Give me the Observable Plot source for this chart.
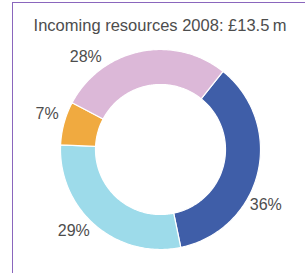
<!DOCTYPE html>
<html>
<head>
<meta charset="utf-8">
<script src="https://cdn.jsdelivr.net/npm/d3@7"></script>
<script src="https://cdn.jsdelivr.net/npm/@observablehq/plot@0.6"></script>
<style>
  html, body { margin: 0; padding: 0; background: #fff; }
  #wrap { position: relative; width: 307px; height: 273px; overflow: hidden; }
  #border { position: absolute; left: 12px; top: 2px; width: 292px; height: 290px;
            border-top: 1.5px solid #8a66bd; border-left: 1.5px solid #8a66bd; pointer-events: none; }
  svg { display: block; }
</style>
</head>
<body>
<div id="wrap"><div id="border"></div></div>
<script>
// ---- data ----
const title = "Incoming resources 2008: £13.5\u2009m";
const categories = ["S1", "S2", "S3", "S4"];
const values = [36, 29, 7, 28];
const labels = ["36%", "29%", "7%", "28%"];
const colors = ["#3f5ea8", "#9ddbea", "#f0aa40", "#dcb8d8"];

// ---- layout (code, not data) ----
const startDeg = 38.7;
const rOuter = 1.0, rInner = 0.65, rLabel = 1.19;
const labelFrac = [0.61, 0.56, 0.59, 0.23];

const pie = d3.pie().sort(null).value(d => d.value)
  .startAngle(startDeg * Math.PI / 180)
  .endAngle(startDeg * Math.PI / 180 + 2 * Math.PI);
const table = categories.map((c, i) => ({category: c, value: values[i], label: labels[i]}));
const arcs = pie(table);

const pts = [];
const labelPts = [];
arcs.forEach((a, i) => {
  const n = Math.max(8, Math.ceil((a.endAngle - a.startAngle) * 60));
  const ring = [];
  for (let k = 0; k <= n; k++) {
    const t = a.startAngle + (a.endAngle - a.startAngle) * k / n;
    ring.push({category: a.data.category, x: rOuter * Math.sin(t), y: rOuter * Math.cos(t)});
  }
  for (let k = n; k >= 0; k--) {
    const t = a.startAngle + (a.endAngle - a.startAngle) * k / n;
    ring.push({category: a.data.category, x: rInner * Math.sin(t), y: rInner * Math.cos(t)});
  }
  ring.push({...ring[0]});
  pts.push(...ring);
  const t = a.startAngle + (a.endAngle - a.startAngle) * labelFrac[i];
  labelPts.push({label: a.data.label, x: rLabel * Math.sin(t), y: rLabel * Math.cos(t)});
});

const chart = Plot.plot({
  width: 307,
  height: 273,
  margin: 0,
  style: {fontFamily: "'Liberation Sans', Arial, sans-serif", background: "transparent"},
  x: {domain: [-1.6, 1.47], axis: null},
  y: {domain: [-1.24, 1.49], axis: null},
  color: {domain: categories, range: colors},
  marks: [
    Plot.line(pts, {x: "x", y: "y", z: "category", fill: "category", stroke: "white", strokeWidth: 1.2, curve: "linear"}),
    Plot.text(labelPts, {x: "x", y: "y", text: "label", fontSize: 16, fill: "#4d4d4d"}),
    Plot.text([title], {frameAnchor: "top", dy: 18.3, dx: 6, text: d => d, fontSize: 16.5, fill: "#4d4d4d"})
  ]
});
document.getElementById("wrap").prepend(chart);
</script>
</body>
</html>
